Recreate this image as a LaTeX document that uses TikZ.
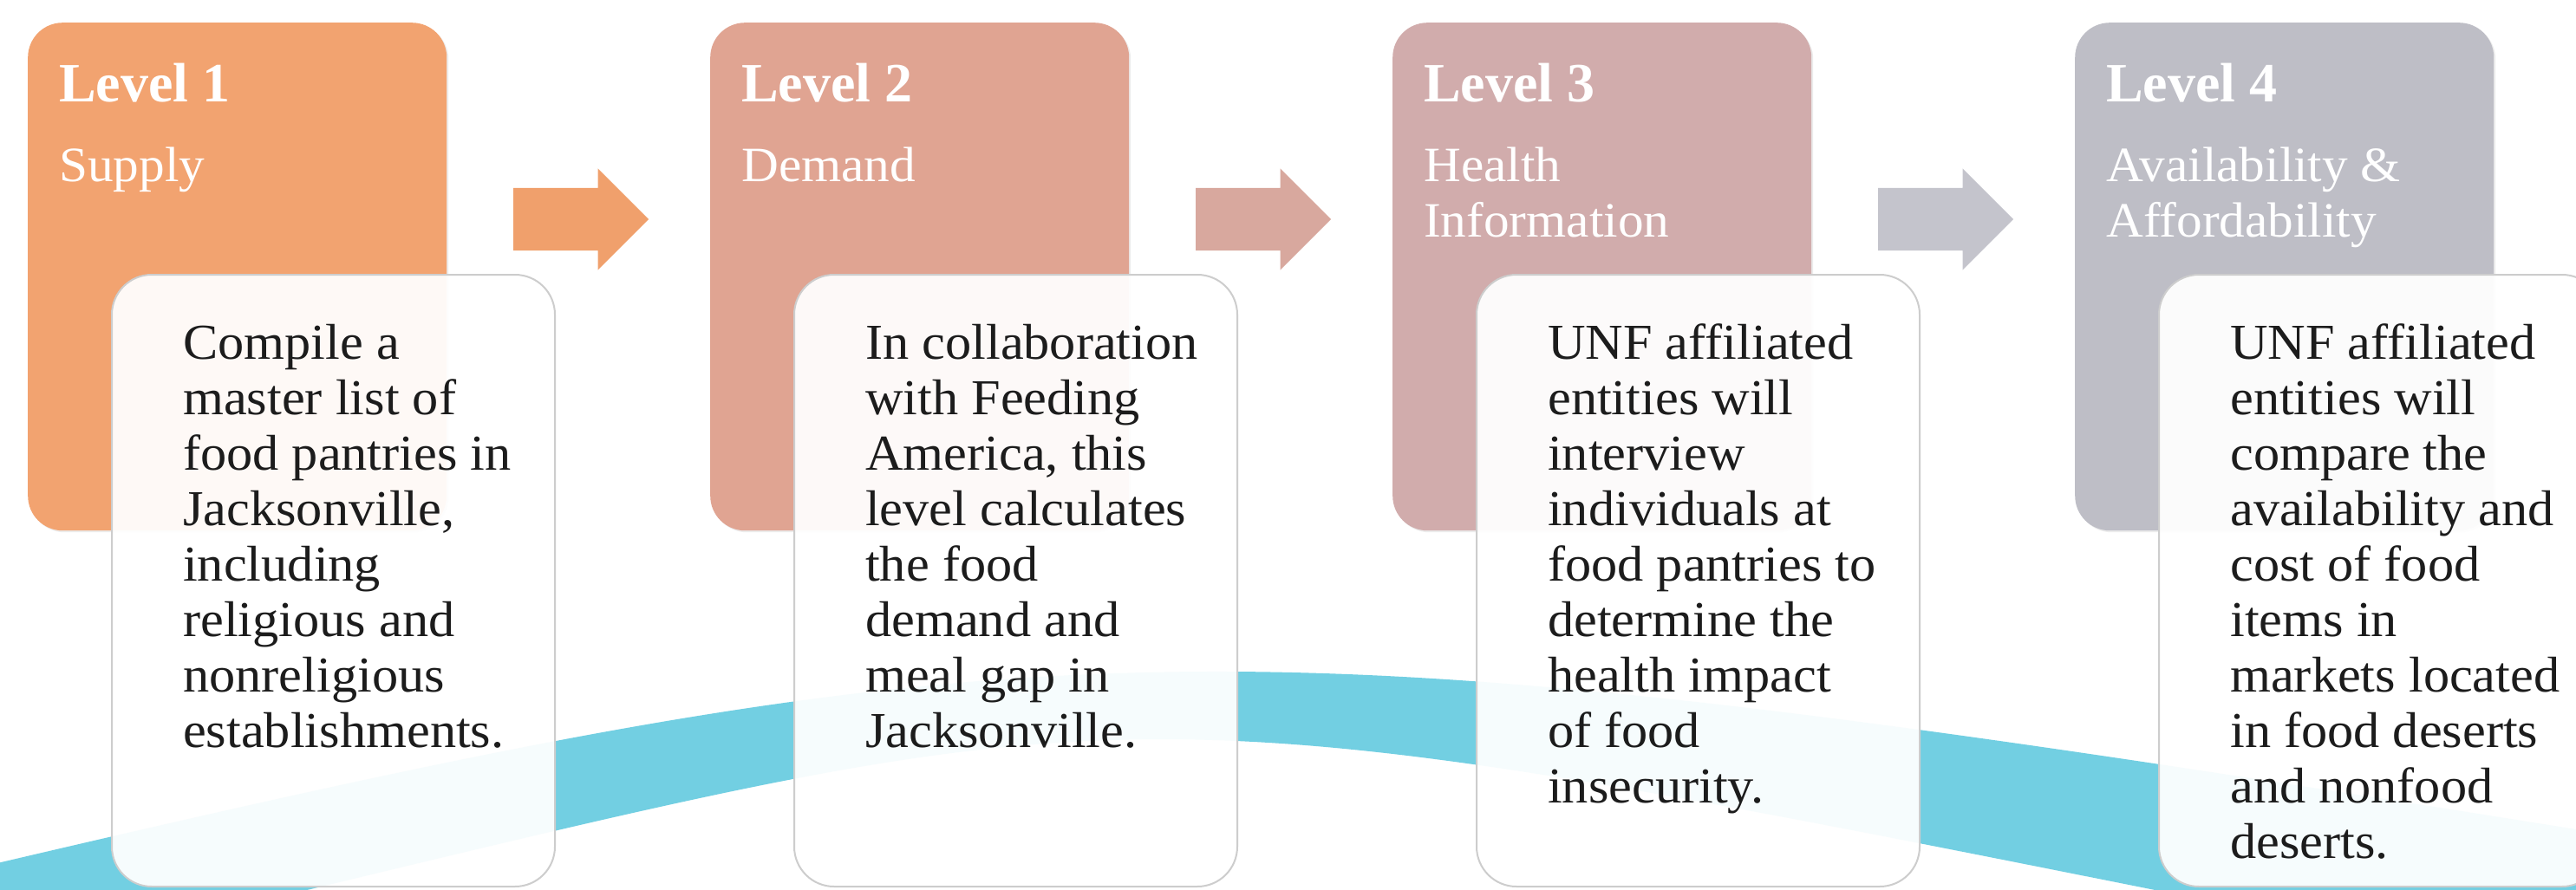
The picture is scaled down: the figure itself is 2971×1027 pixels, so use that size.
\documentclass[tikz,border=0pt]{standalone}
\usepackage{fontspec}
\setmainfont{Liberation Serif}
\newfontfamily\widefont{Liberation Serif}[FakeStretch=1.04]
\usetikzlibrary{shapes.arrows,shadows,calc}

\definecolor{lvlA}{RGB}{242,163,112}
\definecolor{lvlB}{RGB}{224,164,146}
\definecolor{lvlC}{RGB}{209,172,172}
\definecolor{lvlD}{RGB}{190,190,198}
\definecolor{arrA}{RGB}{240,160,108}
\definecolor{arrB}{RGB}{216,168,158}
\definecolor{arrC}{RGB}{196,196,204}
\definecolor{band}{RGB}{114,207,226}
\definecolor{cardline}{RGB}{205,205,205}
\definecolor{ink}{RGB}{28,28,28}

\tikzset{
  level/.style={fill=#1, draw=none, rounded corners=40pt, anchor=north west,
    minimum width=483pt, minimum height=586pt, inner sep=0pt,
    drop shadow={opacity=0.15, shadow xshift=2pt, shadow yshift=-2pt}},
  card/.style={fill=white, fill opacity=0.94, draw=cardline, line width=2pt,
    rounded corners=46pt, anchor=north west,
    minimum width=511pt, minimum height=706pt, inner sep=0pt},
  flow/.style={single arrow, fill=#1, draw=none, inner sep=0pt, anchor=tail,
    single arrow head extend=22.5pt, minimum height=156pt, shape border rotate=0},
  title/.style={anchor=base west, inner sep=0pt, text=white,
    font=\bfseries\fontsize{64}{64}\selectfont},
  subtitle/.style={anchor=base west, inner sep=0pt, text=white,
    font=\widefont\fontsize{57}{64}\selectfont},
  body/.style={anchor=base west, inner sep=0pt, text=ink,
    font=\widefont\fontsize{58}{64}\selectfont},
}

\begin{document}
\begin{tikzpicture}[x=1pt, y=-1pt]
  \useasboundingbox (0,0) rectangle (2971,1027);
  \clip (0,0) rectangle (2971,1027);
  \fill[white] (0,0) rectangle (2971,1027);

  % sweeping ribbon behind the cards
  \fill[band] (-20,1000) .. controls (1227,707) and (1409,707) .. (2990,960)
    -- (2990,1100) -- (2700,1100) -- (2700,1070)
    .. controls (1280,786) and (1358,786) .. (300,1040)
    -- (300,1100) -- (-20,1100) -- cycle;

  % coloured level panels
  \node[level=lvlA] (b1) at (32,26) {};
  \node[level=lvlB] (b2) at (819,26) {};
  \node[level=lvlC] (b3) at (1606,26) {};
  \node[level=lvlD] (b4) at (2393,26) {};

  % block arrows between the panels
  \node[flow=arrA] (a1) at (592,253) {\rule{0pt}{72pt}};
  \node[flow=arrB] (a2) at (1379,253) {\rule{0pt}{72pt}};
  \node[flow=arrC] (a3) at (2166,253) {\rule{0pt}{72pt}};

  % panel headings
  \node[title] (t1) at ($(b1.north west)+(36,92)$) {Level 1};
  \node[title] (t2) at ($(b2.north west)+(36,92)$) {Level 2};
  \node[title] (t3) at ($(b3.north west)+(36,92)$) {Level 3};
  \node[title] (t4) at ($(b4.north west)+(36,92)$) {Level 4};
  \node[subtitle] (s1) at ($(b1.north west)+(36,184)$) {\parbox[t]{440pt}{\raggedright Supply}};
  \node[subtitle] (s2) at ($(b2.north west)+(36,184)$) {\parbox[t]{440pt}{\raggedright Demand}};
  \node[subtitle] (s3) at ($(b3.north west)+(36,184)$) {\parbox[t]{440pt}{\raggedright Health\\Information}};
  \node[subtitle] (s4) at ($(b4.north west)+(36,184)$) {\parbox[t]{440pt}{\raggedright Availability \&\\Affordability}};

  % description cards
  \node[card] (w1) at (128,316) {};
  \node[card] (w2) at (915,316) {};
  \node[card] (w3) at (1702,316) {};
  \node[card] (w4) at (2489,316) {};

  \node[body] (d1) at ($(w1.north west)+(83,98)$) {\parbox[t]{480pt}{\raggedright
    Compile a\\master list of\\food pantries in\\Jacksonville,\\including\\religious and\\nonreligious\\establishments.}};
  \node[body] (d2) at ($(w2.north west)+(83,98)$) {\parbox[t]{480pt}{\raggedright
    In collaboration\\with Feeding\\America, this\\level calculates\\the food\\demand and\\meal gap in\\Jacksonville.}};
  \node[body] (d3) at ($(w3.north west)+(83,98)$) {\parbox[t]{480pt}{\raggedright
    UNF affiliated\\entities will\\interview\\individuals at\\food pantries to\\determine the\\health impact\\of food\\insecurity.}};
  \node[body] (d4) at ($(w4.north west)+(83,98)$) {\parbox[t]{480pt}{\raggedright
    UNF affiliated\\entities will\\compare the\\availability and\\cost of food\\items in\\markets located\\in food deserts\\and nonfood\\deserts.}};
\end{tikzpicture}
\end{document}
